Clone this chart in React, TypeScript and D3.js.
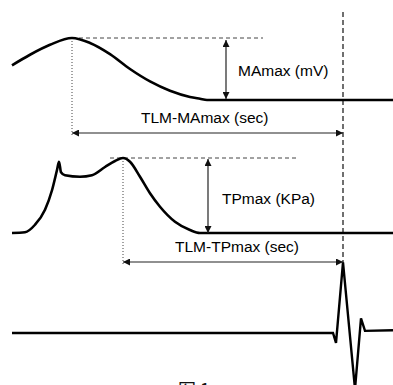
import React from "react";
import * as d3 from "d3";

// Time axis (arbitrary units) shared by all traces
const maTime = [12, 30, 50, 72, 90, 110, 130, 150, 170, 190, 200, 207, 393];
const maValue = [0.56, 0.73, 0.89, 1.0, 0.92, 0.74, 0.5, 0.3, 0.15, 0.05, 0.02, 0, 0];

const tpTime = [12, 25, 35, 45, 52, 57, 59, 61, 65, 80, 92, 105, 115, 123, 130, 140, 150, 160, 175, 190, 200, 393];
const tpValue = [0, 0.01, 0.11, 0.31, 0.57, 0.84, 0.95, 0.81, 0.77, 0.75, 0.77, 0.88, 0.96, 1.0, 0.95, 0.75, 0.53, 0.35, 0.15, 0.04, 0, 0];

const ecgTime = [12, 333, 336, 343, 355, 361, 365, 393];
const ecgValue = [0, 0, -0.14, 1.01, -0.8, 0.21, 0.03, 0.04];

const maPeakTime = 72;
const tpPeakTime = 123;
const ecgPeakTime = 343;

const labels = {
  ma: "MAmax (mV)",
  tlmMa: "TLM-MAmax (sec)",
  tp: "TPmax (KPa)",
  tlmTp: "TLM-TPmax (sec)",
  fig: "图 1",
};

const W = 393;
const H = 385;

export default function App() {
  const x = d3.scaleLinear().domain([0, 393]).range([0, W]);
  const yMA = d3.scaleLinear().domain([0, 1]).range([100, 38]);
  const yTP = d3.scaleLinear().domain([0, 1]).range([233, 158]);
  const yECG = d3.scaleLinear().domain([0, 1]).range([333, 263]);

  const maPath = d3
    .line<number>()
    .x((_, i) => x(maTime[i]))
    .y((d) => yMA(d))
    .curve(d3.curveMonotoneX)(maValue) as string;
  const tpPath = d3
    .line<number>()
    .x((_, i) => x(tpTime[i]))
    .y((d) => yTP(d))
    .curve(d3.curveMonotoneX)(tpValue) as string;
  const ecgPath = d3
    .line<number>()
    .x((_, i) => x(ecgTime[i]))
    .y((d) => yECG(d))
    .curve(d3.curveLinear)(ecgValue) as string;

  const font = "Arial, 'Liberation Sans', sans-serif";
  const arrowColor = "#222";
  const guide = "#444";

  const xMaPk = x(maPeakTime);
  const xTpPk = x(tpPeakTime);
  const xEcg = x(ecgPeakTime);
  const yMaTop = yMA(1);
  const yMaBase = yMA(0);
  const yTpTop = yTP(1);
  const yTpBase = yTP(0);
  const yEcgTop = yECG(1);

  const yTlmMa = 133;
  const yTlmTp = yEcgTop - 1;
  const xMaArrow = 226;
  const xTpArrow = 208;

  return (
    <svg
      width={W}
      height={H}
      style={{ position: "absolute", left: 0, top: 0, background: "#fff" }}
    >
      <defs>
        <marker
          id="ah"
          viewBox="0 0 10 10"
          refX="10"
          refY="5"
          markerWidth="9"
          markerHeight="7"
          markerUnits="userSpaceOnUse"
          orient="auto-start-reverse"
        >
          <path d="M0,0 L10,5 L0,10 z" fill="#111" />
        </marker>
      </defs>

      {/* dashed guides */}
      <line x1={xMaPk} x2={263} y1={yMaTop} y2={yMaTop} stroke={guide} strokeWidth={1} strokeDasharray="4,3" />
      <line x1={110} x2={298} y1={yTpTop} y2={yTpTop} stroke={guide} strokeWidth={1} strokeDasharray="4,3" />
      <line x1={xEcg} x2={xEcg} y1={12} y2={yEcgTop} stroke="#333" strokeWidth={1.4} strokeDasharray="5,3" />

      {/* dotted verticals */}
      <line x1={xMaPk} x2={xMaPk} y1={yMaTop} y2={yTlmMa + 4} stroke={guide} strokeWidth={1} strokeDasharray="1,2" />
      <line x1={xTpPk} x2={xTpPk} y1={yTpTop} y2={yTlmTp + 4} stroke={guide} strokeWidth={1} strokeDasharray="1,2" />

      {/* traces */}
      <path d={maPath} fill="none" stroke="#000" strokeWidth={2.6} strokeLinejoin="round" />
      <path d={tpPath} fill="none" stroke="#000" strokeWidth={2.6} strokeLinejoin="round" />
      <path d={ecgPath} fill="none" stroke="#000" strokeWidth={2.4} strokeLinejoin="miter" />

      {/* amplitude arrows */}
      <line x1={xMaArrow} x2={xMaArrow} y1={yMaTop + 2} y2={yMaBase - 1} stroke={arrowColor} strokeWidth={1.2} markerStart="url(#ah)" markerEnd="url(#ah)" />
      <line x1={xTpArrow} x2={xTpArrow} y1={yTpTop + 1} y2={yTpBase} stroke={arrowColor} strokeWidth={1.2} markerStart="url(#ah)" markerEnd="url(#ah)" />

      {/* latency arrows */}
      <line x1={xMaPk} x2={xEcg} y1={yTlmMa} y2={yTlmMa} stroke={arrowColor} strokeWidth={1.2} markerStart="url(#ah)" markerEnd="url(#ah)" />
      <line x1={xTpPk} x2={xEcg} y1={yTlmTp} y2={yTlmTp} stroke={arrowColor} strokeWidth={1.2} markerStart="url(#ah)" markerEnd="url(#ah)" />

      {/* labels */}
      <text x={238} y={76} fontFamily={font} fontSize={15.5} fill="#000">{labels.ma}</text>
      <text x={141} y={123} fontFamily={font} fontSize={15.5} fill="#000">{labels.tlmMa}</text>
      <text x={222} y={204} fontFamily={font} fontSize={15.5} fill="#000">{labels.tp}</text>
      <text x={175} y={252} fontFamily={font} fontSize={15.5} fill="#000">{labels.tlmTp}</text>
      <text x={178} y={397} fontFamily="'Noto Sans CJK SC', sans-serif" fontSize={18} fill="#111">{labels.fig}</text>
    </svg>
  );
}
